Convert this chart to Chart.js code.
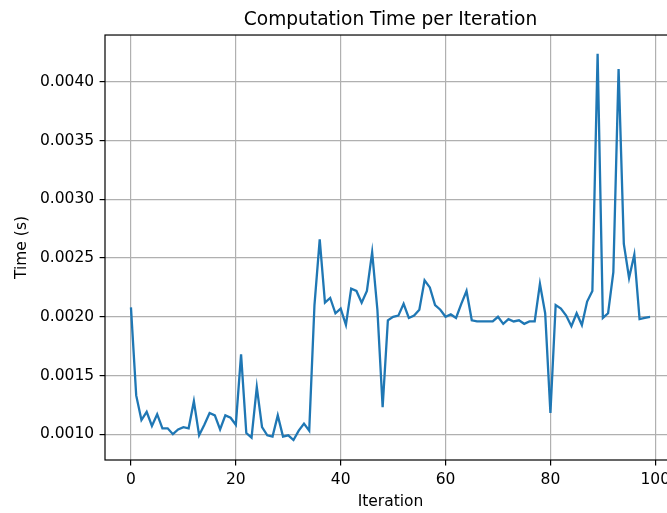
<!DOCTYPE html>
<html>
<head>
<meta charset="utf-8">
<script src="https://cdn.jsdelivr.net/npm/chart.js@4/dist/chart.umd.min.js"></script>
<style>
  html, body { margin: 0; padding: 0; overflow: hidden; background: #fff; }
  #wrap { width: 667px; height: 513px; overflow: hidden; }
  canvas { display: block; }
</style>
</head>
<body>
<div id="wrap"><canvas id="c" width="680" height="513"></canvas></div>
<script>
// ---- data ----
const chartTitle = "Computation Time per Iteration";
const xLabel = "Iteration";
const yLabel = "Time (s)";
const xTicks = [0, 20, 40, 60, 80, 100];
const yTicks = [0.0010, 0.0015, 0.0020, 0.0025, 0.0030, 0.0035, 0.0040];
const iterationTimes = [
  0.00208, 0.00133, 0.00112, 0.00119, 0.00107, 0.00117, 0.00105, 0.00105, 0.00100, 0.00104,
  0.00106, 0.00105, 0.00128, 0.00099, 0.00108, 0.00118, 0.00116, 0.00104, 0.00116, 0.00114,
  0.00108, 0.00168, 0.00101, 0.00097, 0.00140, 0.00106, 0.00099, 0.00098, 0.00116, 0.00098,
  0.00099, 0.00095, 0.00103, 0.00109, 0.00103, 0.00210, 0.00266, 0.00212, 0.00216, 0.00203,
  0.00207, 0.00193, 0.00224, 0.00222, 0.00212, 0.00222, 0.00255, 0.00206, 0.00123, 0.00197,
  0.00200, 0.00201, 0.00211, 0.00199, 0.00201, 0.00206, 0.00231, 0.00225, 0.00210, 0.00206,
  0.00200, 0.00202, 0.00199, 0.00211, 0.00222, 0.00197, 0.00196, 0.00196, 0.00196, 0.00196,
  0.00200, 0.00194, 0.00198, 0.00196, 0.00197, 0.00194, 0.00196, 0.00196, 0.00228, 0.00203,
  0.00118, 0.00210, 0.00207, 0.00201, 0.00192, 0.00203, 0.00193, 0.00213, 0.00222, 0.00424,
  0.00199, 0.00203, 0.00238, 0.00411, 0.00262, 0.00233, 0.00253, 0.00198, 0.00199, 0.00200
];
const xMin = -4.95, xMax = 103.95;
const yMin = 0.000780, yMax = 0.004400;

const FONT = "'DejaVu Sans', sans-serif";
const TICK_PX = 15.5;
const TITLE_PX = 18.6;

const spinePlugin = {
  id: 'spines',
  afterDatasetsDraw(chart) {
    const a = chart.chartArea, ctx = chart.ctx;
    ctx.save();
    ctx.strokeStyle = '#000';
    ctx.lineWidth = 1.2;
    ctx.strokeRect(a.left, a.top, a.right - a.left, a.bottom - a.top);
    ctx.restore();
  }
};

const gridOpts = { color: '#b0b0b0', lineWidth: 1.2, drawTicks: true, tickLength: 5.4, tickColor: '#000', tickWidth: 1.2 };

new Chart(document.getElementById('c'), {
  type: 'line',
  data: {
    datasets: [{
      data: iterationTimes.map((v, i) => ({ x: i, y: v })),
      borderColor: '#1f77b4',
      borderWidth: 2.3,
      pointRadius: 0,
      tension: 0,
      fill: false
    }]
  },
  options: {
    responsive: false,
    animation: false,
    devicePixelRatio: 1,
    layout: { padding: { left: 0, right: 4, top: 0, bottom: 0 } },
    plugins: {
      legend: { display: false },
      tooltip: { enabled: false },
      title: {
        display: true,
        text: chartTitle,
        fullSize: false,
        color: '#000',
        font: { family: FONT, size: TITLE_PX, weight: 'normal' },
        padding: { top: 9.2, bottom: 3.5 }
      }
    },
    scales: {
      x: {
        type: 'linear',
        min: xMin, max: xMax,
        afterBuildTicks: s => { s.ticks = xTicks.map(v => ({ value: v })); },
        afterFit: s => { s.height = 53; },
        grid: gridOpts,
        border: { display: false },
        ticks: { color: '#000', font: { family: FONT, size: TICK_PX }, padding: 5.4, maxRotation: 0, callback: v => String(v) },
        title: { display: true, text: xLabel, color: '#000', font: { family: FONT, size: TICK_PX }, padding: { top: 0, bottom: 2.2 } }
      },
      y: {
        type: 'linear',
        min: yMin, max: yMax,
        afterBuildTicks: s => { s.ticks = yTicks.map(v => ({ value: v })); },
        afterFit: s => { s.width = 105; },
        grid: gridOpts,
        border: { display: false },
        ticks: { color: '#000', font: { family: FONT, size: TICK_PX }, padding: 5.4, callback: v => v.toFixed(4) },
        title: { display: true, text: yLabel, color: '#000', font: { family: FONT, size: TICK_PX }, padding: { top: 12.7, bottom: 0 } }
      }
    }
  },
  plugins: [spinePlugin]
});
</script>
</body>
</html>
